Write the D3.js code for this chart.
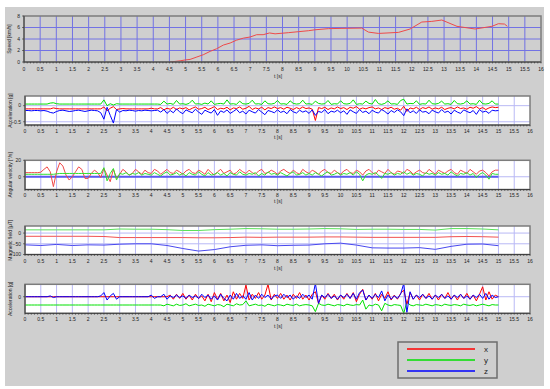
<!DOCTYPE html>
<html>
<head>
<meta charset="utf-8">
<script src="https://cdn.jsdelivr.net/npm/d3@7"></script>
<style>
body { margin: 0; background: #fff; }
svg text { font-family: "Liberation Sans", Arial, sans-serif; fill: #222; }
</style>
</head>
<body>
<div id="chart"></div>
<script>
// ---- data ----
// speed curve, irregular samples
var speedT = [4.52, 4.83, 4.98, 5.14, 5.35, 5.55, 5.76, 5.96, 6.17, 6.38, 6.58, 6.79, 7.0, 7.2, 7.4, 7.6, 7.77,
    8.18, 8.49, 8.8, 9.0, 9.42, 9.84, 10.45, 10.66, 10.97, 11.59, 11.95, 12.31, 12.62, 12.93, 13.4, 13.96, 14.48, 14.68, 14.87, 14.96];
var speedV = [0, 0.2, 0.35, 0.45, 0.87, 1.27, 1.85, 2.3, 2.95, 3.3, 3.8, 4.15, 4.35, 4.75, 4.75, 5.05, 4.9,
    5.1, 5.27, 5.44, 5.6, 5.8, 5.85, 5.9, 5.2, 4.97, 5.15, 5.74, 6.95, 7.06, 7.3, 6.2, 5.74, 6.2, 6.66, 6.6, 6.2];

// sensor series sampled every 0.1 s from 0 to 15 s
var sampleStep = 0.1;

var accX = [-0.10,-0.10,-0.10,-0.10,-0.10,-0.10,-0.10,-0.10,-0.10,-0.07,
    -0.09,-0.10,-0.10,-0.10,-0.10,-0.10,-0.10,-0.10,-0.10,-0.10,
    -0.10,-0.10,-0.10,-0.10,-0.10,-0.04,-0.16,-0.08,-0.03,-0.12,
    -0.10,-0.09,-0.10,-0.10,-0.10,-0.10,-0.10,-0.10,-0.10,-0.10,
    -0.08,-0.10,-0.10,-0.06,-0.13,-0.08,-0.11,-0.05,-0.12,-0.07,
    -0.10,-0.06,-0.13,-0.08,-0.04,-0.11,-0.09,-0.05,-0.12,-0.08,
    -0.03,-0.12,-0.08,-0.10,-0.05,-0.13,-0.07,-0.09,-0.04,-0.11,
    -0.08,-0.02,-0.12,-0.07,-0.10,-0.05,-0.13,-0.06,-0.09,-0.04,
    -0.09,-0.06,-0.11,-0.05,-0.08,-0.12,-0.06,-0.10,-0.04,-0.09,
    -0.07,-0.11,-0.46,-0.06,-0.09,-0.05,-0.12,-0.07,-0.10,-0.04,
    -0.09,-0.06,-0.12,-0.05,-0.08,-0.03,-0.11,-0.07,-0.10,-0.06,
    -0.04,-0.10,-0.07,-0.12,-0.06,-0.09,-0.05,-0.11,-0.08,-0.14,
    -0.02,-0.18,-0.07,-0.10,-0.05,-0.12,-0.06,-0.09,-0.04,-0.11,
    -0.07,-0.10,-0.05,-0.12,-0.08,-0.06,-0.10,-0.04,-0.09,-0.07,
    -0.11,-0.05,-0.08,-0.03,-0.10,-0.06,-0.12,-0.07,-0.04,-0.06,
    -0.05];
var accY = [0.05,0.05,0.05,0.05,0.05,0.05,0.05,0.05,0.08,0.09,
    0.06,0.05,0.05,0.05,0.05,0.05,0.05,0.05,0.05,0.05,
    0.05,0.05,0.05,0.05,0.05,0.18,0.00,0.06,0.02,0.06,
    0.05,0.05,0.05,0.05,0.05,0.05,0.05,0.05,0.05,0.05,
    0.05,0.05,0.05,0.04,0.14,0.05,0.07,0.04,0.16,0.05,
    0.06,0.04,0.07,0.17,0.05,0.06,0.04,0.08,0.05,0.15,
    0.04,0.06,0.07,0.05,0.18,0.05,0.06,0.04,0.14,0.06,
    0.05,0.07,0.17,0.05,0.06,0.04,0.15,0.06,0.05,0.07,
    0.16,0.05,0.06,0.04,0.15,0.07,0.05,0.06,0.17,0.05,
    0.06,0.04,0.14,0.07,0.05,0.06,0.16,0.04,0.06,0.05,
    0.15,0.06,0.05,0.07,0.18,0.04,0.06,0.05,0.14,0.07,
    0.05,0.19,0.06,0.04,0.07,0.15,0.05,0.06,0.04,0.16,
    0.20,0.05,0.07,0.06,0.15,0.04,0.06,0.05,0.17,0.06,
    0.05,0.07,0.14,0.05,0.06,0.04,0.16,0.06,0.05,0.07,
    0.15,0.05,0.06,0.04,0.17,0.06,0.05,0.07,0.15,0.05,
    0.05];
var accZ = [-0.15,-0.15,-0.16,-0.15,-0.15,-0.16,-0.15,-0.17,-0.21,-0.23,
    -0.18,-0.15,-0.14,-0.16,-0.18,-0.17,-0.15,-0.14,-0.16,-0.18,
    -0.16,-0.14,-0.15,-0.16,-0.22,-0.42,-0.05,-0.30,-0.54,-0.12,
    -0.20,-0.15,-0.16,-0.14,-0.15,-0.17,-0.15,-0.16,-0.14,-0.15,
    -0.16,-0.15,-0.14,-0.20,-0.12,-0.24,-0.15,-0.22,-0.10,-0.19,
    -0.25,-0.13,-0.18,-0.22,-0.11,-0.20,-0.27,-0.14,-0.19,-0.23,
    -0.12,-0.30,-0.16,-0.21,-0.13,-0.24,-0.18,-0.11,-0.22,-0.17,
    -0.26,-0.14,-0.19,-0.23,-0.12,-0.20,-0.28,-0.15,-0.18,-0.22,
    -0.13,-0.21,-0.17,-0.25,-0.12,-0.19,-0.23,-0.14,-0.20,-0.16,
    -0.24,-0.13,-0.30,-0.18,-0.21,-0.12,-0.25,-0.17,-0.20,-0.14,
    -0.22,-0.16,-0.27,-0.13,-0.19,-0.24,-0.12,-0.21,-0.17,-0.25,
    -0.14,-0.20,-0.23,-0.12,-0.18,-0.26,-0.15,-0.21,-0.13,-0.19,
    -0.31,-0.10,-0.22,-0.16,-0.24,-0.13,-0.20,-0.18,-0.25,-0.14,
    -0.19,-0.23,-0.12,-0.21,-0.17,-0.26,-0.14,-0.20,-0.24,-0.13,
    -0.18,-0.22,-0.15,-0.27,-0.12,-0.20,-0.17,-0.24,-0.14,-0.16,
    -0.15];

var gyroX = [5,5,5,5,5,5.5,9,12,6,-12,
    6,17,13,2,-4,0,6,12,9,-2,
    -2,4,8,5,-1,10,2,-6,9,-2,
    3,9,6,2,4,9,6,3,8,5,
    4,9,7,3,6,9,5,4,8,6,
    3,7,9,5,4,8,6,3,9,5,
    2,6,9,4,6,8,3,5,9,6,
    4,8,5,3,7,9,4,5,8,6,
    3,7,9,6,4,8,5,3,9,6,
    4,8,6,3,7,9,5,4,8,5,
    3,7,9,5,4,8,6,2,7,9,
    5,3,8,6,4,9,5,3,7,6,
    4,9,7,3,6,8,5,4,9,6,
    3,8,6,4,7,9,5,3,8,6,
    4,9,6,3,7,8,5,1,6,8,
    8];
var gyroY = [3,3,3,3,3,3,3,3,3,3,
    3.5,4,4,4,4,4,4,4,4,4,
    4,4,4,4,4,11,-5,4,10,-4,
    4,3,5,2,4,3,5,2,4,3,
    2,5,3,1,4,6,2,3,5,2,
    4,1,5,3,2,6,3,1,5,2,
    3,5,2,4,1,5,3,2,6,3,
    2,4,3,5,1,4,2,6,3,4,
    2,5,3,1,4,6,2,3,5,2,
    4,2,5,3,1,4,6,2,3,5,
    2,4,3,5,2,6,3,-5,2,4,
    3,5,2,-2,4,3,5,2,4,3,
    6,3,5,2,4,3,1,5,3,4,
    2,5,3,4,2,6,3,1,4,3,
    5,2,4,-1,3,5,2,-3,4,3,
    3];
var gyroZT = [0, 15];
var gyroZ = [0, 0];

// magnetic field, sampled every 0.5 s
var magStep = 0.5;
var magX = [-15,-15,-15,-15,-15,-16,-21,-21,-21,-21,-21,-22,-22,-21,-19,-20,
    -19,-19,-19,-18,-18,-19,-20,-20,-20,-20,-20,-17,-16,-17,-19];
var magY = [15,15,15,15,15,15,19,18,18,16,12,12,16,18,21,20,
    18,18,19,21,20,17,18,18,17,17,14,21,21,19,15];
var magZ = [-55,-58,-53,-58,-55,-56,-52,-50,-50,-58,-72,-84,-77,-64,-57,-55,
    -59,-57,-56,-50,-47,-56,-69,-70,-70,-68,-76,-62,-52,-51,-59];

var acc2X = [0,0,0,0,0,0,0,0,0,0,
    0,0,0,0,0,0,0,0,0,0,
    0,0,0,0,0,0,0,0,0,0,
    0,0,0,0,0,0,0,0,0,0,
    0,0,0,0,0,0,0.2,-0.3,0.3,-0.2,
    0.4,-0.3,0.2,-0.4,0.3,-0.2,0.1,-0.5,0.3,-0.6,
    0.5,-0.3,0.4,-0.5,0.2,-0.7,0.6,-0.3,0.4,-0.2,
    1.4,-0.4,0.3,-0.2,0.5,-0.3,0.2,1.5,-0.4,0.3,
    -0.2,0.4,-0.3,0.2,-0.4,0.3,-0.2,0.5,-0.3,0.2,
    -0.4,0.3,0.6,-0.8,0.2,-0.3,0.4,-0.2,0.3,-0.4,
    0.2,-0.3,0.4,-0.2,0.5,-0.6,0.3,0.9,-0.4,0.2,
    -0.3,0.4,-0.5,0.3,-0.2,0.6,-0.4,0.2,-0.3,0.4,
    0.8,-0.9,0.5,-0.3,0.2,-0.4,0.3,-0.2,0.4,-0.3,
    0.2,-0.4,0.3,-0.2,0.5,-0.3,0.2,-0.4,0.3,-0.2,
    0.4,-0.3,0.2,-0.5,0.3,1.2,-0.4,0.6,-0.3,0.2,
    0];
var acc2Y = [-1,-1,-1,-1,-1,-1,-1,-1,-1,-1,
    -1,-1,-1,-1,-1,-1,-1,-1,-1,-1,
    -1,-1,-1,-1,-1,-1,-1,-1,-1,-1,
    -1,-1,-1,-1,-1,-1,-1,-1,-1,-1,
    -1,-1,-1,-1,-1.1,-0.9,-1.0,-1.1,-0.9,-1.05,
    -1.0,-0.85,-1.1,-1.0,-0.9,-1.05,-1.0,-1.15,-0.9,-1.0,
    -1.1,-0.95,-1.0,-1.2,-0.9,-1.0,-1.1,-0.85,-1.0,-0.95,
    -0.5,-1.1,-1.0,-0.9,-1.05,-1.0,-1.15,-0.9,-1.0,-1.1,
    -0.95,-1.0,-1.1,-0.9,-1.0,-1.05,-0.9,-1.1,-1.0,-0.95,
    -1.0,-1.1,-1.8,-0.8,-1.0,-1.05,-0.9,-1.0,-1.1,-0.95,
    -1.0,-1.1,-0.9,-1.0,-1.05,-0.95,-1.0,-0.4,-1.5,-1.0,
    -1.1,-0.9,-1.0,-1.7,-0.8,-1.0,-1.1,-0.95,-1.0,-1.05,
    -2.0,-0.6,-1.0,-1.1,-0.95,-1.0,-1.05,-0.9,-1.0,-1.1,
    -0.95,-1.0,-1.1,-0.9,-1.0,-1.05,-0.95,-1.0,-1.1,-0.9,
    -1.0,-1.05,-0.95,-1.1,-1.0,-0.9,-1.0,-1.1,-0.95,-1.0,
    -1.0];
var acc2Z = [0,0,0,0,0,0,0,0,0.1,-0.1,
    0,0,0,0,0,0,0,0,0,0,
    0,0,0,0,0.1,0.5,-0.4,0.1,0.4,-0.3,
    0,0,0,0,0,0,0,0,0,0,
    0.2,-0.2,0,0,0.3,-0.3,0.1,-0.1,0.2,-0.1,
    0.1,-0.2,0.2,-0.1,0.1,-0.2,0.3,-0.1,0.2,-0.3,
    0.1,-0.4,0.3,-0.2,-0.5,0.2,-0.3,0.4,-0.2,0.1,
    -0.3,0.5,-0.4,0.2,-0.2,0.3,-0.1,0.2,-0.3,0.1,
    0.2,-0.2,0.3,-0.1,0.2,-0.3,0.1,-0.2,0.3,-0.1,
    0.2,-0.3,1.6,-0.8,0.2,-0.1,0.3,-0.2,0.1,-0.3,
    0.2,-0.1,0.3,-0.2,0.4,-0.3,0.5,0.8,-0.4,0.2,
    -0.2,0.3,-0.1,0.7,-0.5,0.2,-0.3,0.1,-0.2,0.3,
    1.6,-1.9,0.6,-0.3,0.2,-0.1,0.3,-0.2,0.1,-0.3,
    0.2,-0.1,0.3,-0.2,0.1,-0.3,0.2,-0.1,0.3,-0.2,
    0.1,-0.3,0.2,-0.1,0.3,-0.2,0.4,-0.3,0.2,-0.1,
    0];

var legendNames = ["x", "y", "z"];
var axisColors = ["#ff0000", "#00e000", "#0000ff"];
var xMax = 16;

// ---- drawing ----
var width = 550, height = 389;
var svg = d3.select("#chart").append("svg")
    .attr("width", width)
    .attr("height", height);

svg.append("rect")
    .attr("x", 5).attr("y", 7)
    .attr("width", 539).attr("height", 379)
    .attr("fill", "#cfcfcf");

function sampled(values, stepSize) {
    return values.map(function (v, i) { return [i * stepSize, v]; });
}
function paired(ts, vs) {
    return ts.map(function (t, i) { return [t, vs[i]]; });
}

var panels = [
    { left: 24, right: 541, top: 16, bottom: 62, domain: [0, 8], ticks: [0, 2, 4, 6, 8], grid: [2, 4, 6],
      label: "Speed [km/h]", fill: "none", gridColor: "#7272e4", tickY: 70.8, tlabel: 78,
      series: [{ pts: paired(speedT, speedV), color: "#ee4a4a", w: 1 }] },
    { left: 25, right: 530, top: 96, bottom: 125, domain: [-0.6, 0.3], ticks: [0, -0.5], grid: [0, -0.5],
      label: "Acceleration [g]", fill: "#fff", gridColor: "#b9b9f5", tickY: 132.6, tlabel: 139.3,
      series: [{ pts: sampled(accY, sampleStep), color: axisColors[1], w: 1 },
               { pts: sampled(accX, sampleStep), color: axisColors[0], w: 1 },
               { pts: sampled(accZ, sampleStep), color: axisColors[2], w: 1 }] },
    { left: 25, right: 530, top: 160.3, bottom: 189.5, domain: [-15.5, 20], ticks: [0, 20], grid: [0],
      label: "Angular velocity [°/s]", fill: "#fff", gridColor: "#b9b9f5", tickY: 197, tlabel: 203,
      series: [{ pts: paired(gyroZT, gyroZ), color: "#5a5af0", w: 2 },
               { pts: sampled(gyroX, sampleStep), color: "#f04848", w: 1 },
               { pts: sampled(gyroY, sampleStep), color: "#30e030", w: 1 }] },
    { left: 25, right: 530, top: 226, bottom: 254.5, domain: [-100, 33], ticks: [0, -50, -100], grid: [0, -50],
      label: "Magnetic field [µT]", fill: "#fff", gridColor: "#b9b9f5", tickY: 262.5, tlabel: 270,
      series: [{ pts: sampled(magY, magStep), color: "#5ae05a", w: 1 },
               { pts: sampled(magX, magStep), color: "#f05050", w: 1 },
               { pts: sampled(magZ, magStep), color: "#4848ee", w: 1 }] },
    { left: 25, right: 530, top: 284.3, bottom: 313.3, domain: [-2, 1.5], ticks: [0], grid: [0],
      label: "Acceleration [g]", fill: "#fff", gridColor: "#b9b9f5", tickY: 321, tlabel: 327.5,
      series: [{ pts: sampled(acc2Y, sampleStep), color: axisColors[1], w: 1 },
               { pts: sampled(acc2X, sampleStep), color: axisColors[0], w: 1 },
               { pts: sampled(acc2Z, sampleStep), color: axisColors[2], w: 1 }] }
];

var majorTicks = d3.range(0, xMax + 0.001, 0.5);
var minorTicks = d3.range(0, xMax + 0.001, 0.1);
var fmt = d3.format("~g");

panels.forEach(function (p, k) {
    var x = d3.scaleLinear().domain([0, xMax]).range([p.left, p.right]);
    var y = d3.scaleLinear().domain(p.domain).range([p.bottom, p.top]);
    var g = svg.append("g");

    g.append("rect")
        .attr("x", p.left).attr("y", p.top)
        .attr("width", p.right - p.left).attr("height", p.bottom - p.top)
        .attr("fill", p.fill);

    // grid
    g.selectAll(".vg").data(majorTicks.slice(1, -1)).enter().append("line")
        .attr("x1", function (d) { return x(d); }).attr("x2", function (d) { return x(d); })
        .attr("y1", p.top).attr("y2", p.bottom)
        .attr("stroke", p.gridColor).attr("stroke-width", 1);
    g.selectAll(".hg").data(p.grid).enter().append("line")
        .attr("x1", p.left).attr("x2", p.right)
        .attr("y1", function (d) { return y(d); }).attr("y2", function (d) { return y(d); })
        .attr("stroke", p.gridColor).attr("stroke-width", 1);

    // series
    var clipId = "clip" + k;
    svg.append("clipPath").attr("id", clipId).append("rect")
        .attr("x", p.left).attr("y", p.top)
        .attr("width", p.right - p.left).attr("height", p.bottom - p.top);
    var line = d3.line()
        .x(function (d) { return x(d[0]); })
        .y(function (d) { return y(d[1]); });
    p.series.forEach(function (s) {
        g.append("path")
            .attr("d", line(s.pts))
            .attr("clip-path", "url(#" + clipId + ")")
            .attr("fill", "none")
            .attr("stroke", s.color)
            .attr("stroke-width", s.w)
            .attr("stroke-linejoin", "round");
    });

    // frame
    g.append("rect")
        .attr("x", p.left).attr("y", p.top)
        .attr("width", p.right - p.left).attr("height", p.bottom - p.top)
        .attr("fill", "none").attr("stroke", "#7c7c7c").attr("stroke-width", 1.5);

    // x axis with minor ticks
    g.append("line")
        .attr("x1", p.left).attr("x2", p.right)
        .attr("y1", p.bottom).attr("y2", p.bottom)
        .attr("stroke", "#333").attr("stroke-width", 0.8);
    g.selectAll(".mt").data(minorTicks).enter().append("line")
        .attr("x1", function (d) { return x(d); }).attr("x2", function (d) { return x(d); })
        .attr("y1", p.bottom).attr("y2", p.bottom + 1.5)
        .attr("stroke", "#333").attr("stroke-width", 0.6);
    g.selectAll(".xl").data(majorTicks).enter().append("text")
        .attr("x", function (d) { return x(d); })
        .attr("y", p.tickY)
        .attr("text-anchor", "middle")
        .attr("font-size", 5)
        .text(function (d) { return fmt(d); });
    g.append("text")
        .attr("x", 278).attr("y", p.tlabel)
        .attr("text-anchor", "middle")
        .attr("font-size", 5)
        .text("t [s]");

    // y axis
    g.append("line")
        .attr("x1", p.left).attr("x2", p.left)
        .attr("y1", p.top).attr("y2", p.bottom)
        .attr("stroke", "#333").attr("stroke-width", 0.8);
    g.selectAll(".yt").data(p.ticks).enter().append("line")
        .attr("x1", p.left - 2).attr("x2", p.left)
        .attr("y1", function (d) { return y(d); }).attr("y2", function (d) { return y(d); })
        .attr("stroke", "#333").attr("stroke-width", 0.6);
    g.selectAll(".yl").data(p.ticks).enter().append("text")
        .attr("x", p.left - 4)
        .attr("y", function (d) { return y(d) + 1.8; })
        .attr("text-anchor", "end")
        .attr("font-size", 5)
        .text(function (d) { return fmt(d); });
    g.append("text")
        .attr("transform", "translate(" + (p.left - 13) + "," + ((p.top + p.bottom) / 2) + ") rotate(-90)")
        .attr("text-anchor", "middle")
        .attr("font-size", 5)
        .text(p.label);
});

// legend
var lg = svg.append("g");
lg.append("rect")
    .attr("x", 398).attr("y", 342)
    .attr("width", 99).attr("height", 36)
    .attr("fill", "#cfcfcf")
    .attr("stroke", "#6e6e6e").attr("stroke-width", 1.5);
var ly = d3.scalePoint().domain(legendNames).range([349, 371]);
legendNames.forEach(function (n, i) {
    lg.append("line")
        .attr("x1", 407).attr("x2", 475)
        .attr("y1", ly(n)).attr("y2", ly(n))
        .attr("stroke", axisColors[i]).attr("stroke-width", 1.5);
    lg.append("text")
        .attr("x", 484).attr("y", ly(n) + 3)
        .attr("font-size", 8)
        .text(n);
});
</script>
</body>
</html>
